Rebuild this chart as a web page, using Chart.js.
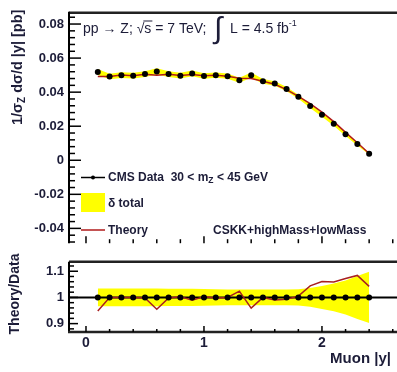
<!DOCTYPE html>
<html>
<head>
<meta charset="utf-8">
<script src="https://cdn.jsdelivr.net/npm/chart.js@4.4.0/dist/chart.umd.min.js"></script>
<style>
html, body { margin: 0; padding: 0; background: #fff; }
#wrap { position: relative; width: 397px; height: 372px; overflow: hidden; }
#top { position: absolute; left: 0; top: 0; }
#bottom { position: absolute; left: 0; top: 249px; }
</style>
</head>
<body>
<div id="wrap">
  <canvas id="top" width="397" height="256"></canvas>
  <canvas id="bottom" width="397" height="123"></canvas>
</div>
<script>
// muon rapidity bins
const rapidity = [0.1, 0.2, 0.3, 0.4, 0.5, 0.6, 0.7, 0.8, 0.9, 1.0, 1.1, 1.2,
                  1.3, 1.4, 1.5, 1.6, 1.7, 1.8, 1.9, 2.0, 2.1, 2.2, 2.3, 2.4];
// 1/sigma dsigma/d|y| , CMS data
const cmsData = [0.0519, 0.0492, 0.0500, 0.0497, 0.0506, 0.0522, 0.0506, 0.0497, 0.0510, 0.0495, 0.0500, 0.0494,
                 0.0470, 0.0500, 0.0464, 0.0451, 0.0418, 0.0373, 0.0318, 0.0267, 0.0214, 0.0153, 0.0095, 0.0038];
// CSKK+highMass+lowMass prediction
const theory = [0.0492, 0.0492, 0.0500, 0.0497, 0.0505, 0.0499, 0.0505, 0.0498, 0.0504, 0.0496, 0.0499, 0.0494,
                0.0481, 0.0480, 0.0464, 0.0446, 0.0415, 0.0375, 0.0332, 0.0283, 0.0227, 0.0164, 0.0103, 0.0040];
// theory / data
const theoryOverData = [0.948, 1.000, 1.000, 1.000, 0.998, 0.955, 0.998, 1.003, 0.989, 1.003, 0.998, 1.000,
                        1.024, 0.959, 1.000, 0.990, 0.993, 1.005, 1.044, 1.061, 1.059, 1.072, 1.084, 1.042];
// relative total uncertainty (delta total)
const deltaTotal = [0.034, 0.034, 0.034, 0.034, 0.034, 0.034, 0.033, 0.033, 0.033, 0.032, 0.031, 0.030,
                    0.030, 0.030, 0.030, 0.030, 0.030, 0.031, 0.036, 0.044, 0.053, 0.065, 0.082, 0.098];

const topYTicks = [-0.04, -0.02, 0, 0.02, 0.04, 0.06, 0.08];
const ratioYTicks = [0.9, 1, 1.1];
const xTickLabels = [0, 1, 2];

const X_MIN = -0.144, X_MAX = 2.636;
const FONT = '"Liberation Sans", Arial, Helvetica, sans-serif';
const TXT = '#1c1c38';

function pts(ys) {
    return rapidity.map((x, i) => ({x: x, y: ys[i]}));
}

function seg(ctx, x1, y1, x2, y2, w, c) {
    ctx.beginPath();
    ctx.lineWidth = w;
    ctx.strokeStyle = c;
    ctx.moveTo(x1, y1);
    ctx.lineTo(x2, y2);
    ctx.stroke();
}

// draws pieces of text one after the other: [text, size, bold, dy]
function rich(ctx, parts, x, y) {
    let cx = x;
    parts.forEach(p => {
        ctx.font = (p[2] ? 'bold ' : '') + p[1] + 'px ' + FONT;
        ctx.fillText(p[0], cx, y + (p[3] || 0));
        cx += ctx.measureText(p[0]).width;
    });
    return cx;
}

const bandStyle = {showLine: true, pointRadius: 0, borderWidth: 0, borderColor: 'rgba(0,0,0,0)', backgroundColor: '#ffff00'};

const topDecor = {
    id: 'topDecor',
    afterDraw(chart) {
        const ctx = chart.ctx, a = chart.chartArea;
        const x = chart.scales.x, y = chart.scales.y;
        ctx.save();
        // frame
        seg(ctx, a.left, a.top, a.right, a.top, 2.5, '#222');
        seg(ctx, a.left, a.top - 1, a.left, a.bottom, 2, '#000');
        // y ticks
        for (let k = -12; k <= 21; k++) {
            const py = y.getPixelForValue(k * 0.004);
            const len = (k % 5 === 0) ? 12 : 6;
            seg(ctx, a.left, py, a.left + len, py, 1.5, '#000');
        }
        // x ticks (pointing up)
        for (let k = 0; k <= 13; k++) {
            const px = x.getPixelForValue(k * 0.2);
            const len = (k % 5 === 0) ? 7 : 4;
            seg(ctx, px, a.bottom, px, a.bottom - len, 1.5, '#000');
        }

        ctx.fillStyle = TXT;
        ctx.textBaseline = 'middle';
        ctx.textAlign = 'left';

        // y title, rotated
        ctx.save();
        ctx.translate(18, 125);
        ctx.rotate(-Math.PI / 2);
        rich(ctx, [['1/σ', 14.5, true], ['Z', 10, true, 4], [' dσ/d |y| [pb]', 14.5, true]], 0, 0);
        ctx.restore();

        // header
        ctx.font = '14px ' + FONT;
        const head = 'pp → Z; √s = 7 TeV;';
        ctx.fillText(head, 83, 29);
        const w0 = ctx.measureText('pp → Z; √').width;
        const w1 = ctx.measureText('pp → Z; √s').width;
        seg(ctx, 83 + w0 - 1, 21, 83 + w1 + 1, 21, 1, TXT);
        ctx.font = '30px ' + FONT;
        ctx.fillText('∫', 214, 30);
        const ex = rich(ctx, [['L = 4.5 fb', 14, false]], 230, 29);
        rich(ctx, [['-1', 9, false]], ex, 24);

        // legend
        seg(ctx, 81, 177.5, 105, 177.5, 1.5, '#000');
        ctx.beginPath();
        ctx.fillStyle = '#000';
        ctx.arc(93, 177.5, 2, 0, Math.PI * 2);
        ctx.fill();
        ctx.fillStyle = TXT;
        rich(ctx, [['CMS Data  30 < m', 12, true], ['Z', 8.5, true, 3], [' < 45 GeV', 12, true]], 108, 178);

        ctx.fillStyle = '#ffff00';
        ctx.fillRect(81, 193, 24, 19);
        ctx.fillStyle = TXT;
        rich(ctx, [['δ total', 12, true]], 108, 204);

        seg(ctx, 81, 230, 105, 230, 1.5, '#b01a1a');
        rich(ctx, [['Theory', 12, true]], 108, 231);
        rich(ctx, [['CSKK+highMass+lowMass', 12, true]], 213, 231);
        ctx.restore();
    }
};

const ratioDecor = {
    id: 'ratioDecor',
    beforeDatasetDraw(chart, args) {
        // reference line at 1, under the theory curve
        if (chart.data.datasets[args.index].label !== 'Theory') return;
        const a = chart.chartArea, py = chart.scales.y.getPixelForValue(1);
        seg(chart.ctx, a.left, py, a.right, py, 2, '#000');
    },
    afterDraw(chart) {
        const ctx = chart.ctx, a = chart.chartArea;
        const x = chart.scales.x, y = chart.scales.y;
        ctx.save();
        seg(ctx, a.left, a.top, a.right, a.top, 2.5, '#222');
        seg(ctx, a.left, a.top, a.left, a.bottom, 2, '#000');
        seg(ctx, a.left - 1, a.bottom, a.right, a.bottom, 2.5, '#222');
        for (let k = 44; k <= 56; k++) {
            const py = y.getPixelForValue(k * 0.02);
            const len = (k % 5 === 0) ? 9 : 5;
            seg(ctx, a.left, py, a.left + len, py, 1.5, '#000');
        }
        for (let k = 0; k <= 13; k++) {
            const px = x.getPixelForValue(k * 0.2);
            const len = (k % 5 === 0) ? 6 : 3;
            seg(ctx, px, a.bottom, px, a.bottom - len, 1.5, '#000');
        }
        ctx.fillStyle = TXT;
        ctx.textBaseline = 'middle';
        ctx.save();
        ctx.translate(15, 294 - 249);
        ctx.rotate(-Math.PI / 2);
        ctx.textAlign = 'center';
        ctx.font = 'bold 14px ' + FONT;
        ctx.fillText('Theory/Data', 0, 0);
        ctx.restore();
        ctx.textAlign = 'right';
        ctx.font = 'bold 15px ' + FONT;
        ctx.fillText('Muon |y|', 391, 359 - 249);
        ctx.restore();
    }
};

const tickFmt = v => String(Number(v.toFixed(2)));

// upper panel
const topChart = new Chart(document.getElementById('top'), {
    type: 'line',
    data: {
        datasets: [
            {label: 'CMS Data', data: pts(cmsData), showLine: false, pointRadius: 3,
             pointBackgroundColor: '#000', pointBorderWidth: 0, order: 0},
            {label: 'Theory', data: pts(theory), borderColor: '#b01a1a', borderWidth: 1.5,
             pointRadius: 0, order: 1},
            Object.assign({label: 'band up', data: pts(cmsData.map((d, i) => d * (1 + deltaTotal[i]))), fill: '+1', order: 2}, bandStyle),
            Object.assign({label: 'band down', data: pts(cmsData.map((d, i) => d * (1 - deltaTotal[i]))), fill: false, order: 3}, bandStyle)
        ]
    },
    options: {
        responsive: false,
        animation: false,
        layout: {padding: {top: 5, bottom: 4, left: 0, right: 0}, autoPadding: false},
        plugins: {legend: {display: false}, tooltip: {enabled: false}},
        scales: {
            x: {type: 'linear', min: X_MIN, max: X_MAX, display: false},
            y: {
                min: -0.0487, max: 0.0866,
                afterFit: s => { s.width = 69; },
                afterBuildTicks: s => { s.ticks = topYTicks.map(v => ({value: v})); },
                grid: {display: false, drawTicks: false},
                border: {display: false},
                ticks: {padding: 5, color: TXT, font: {family: FONT, size: 13, weight: 'bold'}, callback: tickFmt}
            }
        }
    },
    plugins: [topDecor]
});

// ratio panel
const ratioChart = new Chart(document.getElementById('bottom'), {
    type: 'line',
    data: {
        datasets: [
            {label: 'Data', data: pts(rapidity.map(() => 1)), showLine: false, pointRadius: 3,
             pointBackgroundColor: '#000', pointBorderWidth: 0, order: 0},
            {label: 'Theory', data: pts(theoryOverData), borderColor: '#a82020', borderWidth: 1.5,
             pointRadius: 0, order: 1},
            Object.assign({label: 'band up', data: pts(deltaTotal.map(e => 1 + e)), fill: '+1', order: 2}, bandStyle),
            Object.assign({label: 'band down', data: pts(deltaTotal.map(e => 1 - e)), fill: false, order: 3}, bandStyle)
        ]
    },
    options: {
        responsive: false,
        animation: false,
        layout: {padding: {top: 4, bottom: 0, left: 0, right: 0}, autoPadding: false},
        plugins: {legend: {display: false}, tooltip: {enabled: false}},
        scales: {
            x: {
                type: 'linear', min: X_MIN, max: X_MAX,
                afterFit: s => { s.height = 40; },
                afterBuildTicks: s => { s.ticks = xTickLabels.map(v => ({value: v})); },
                grid: {display: false, drawTicks: false},
                border: {display: false},
                ticks: {padding: 3, color: TXT, maxRotation: 0, font: {family: FONT, size: 14, weight: 'bold'}, callback: tickFmt}
            },
            y: {
                min: 0.868, max: 1.136,
                afterFit: s => { s.width = 69; },
                afterBuildTicks: s => { s.ticks = ratioYTicks.map(v => ({value: v})); },
                grid: {display: false, drawTicks: false},
                border: {display: false},
                ticks: {padding: 5, color: TXT, font: {family: FONT, size: 13, weight: 'bold'}, callback: tickFmt}
            }
        }
    },
    plugins: [ratioDecor]
});
</script>
</body>
</html>
